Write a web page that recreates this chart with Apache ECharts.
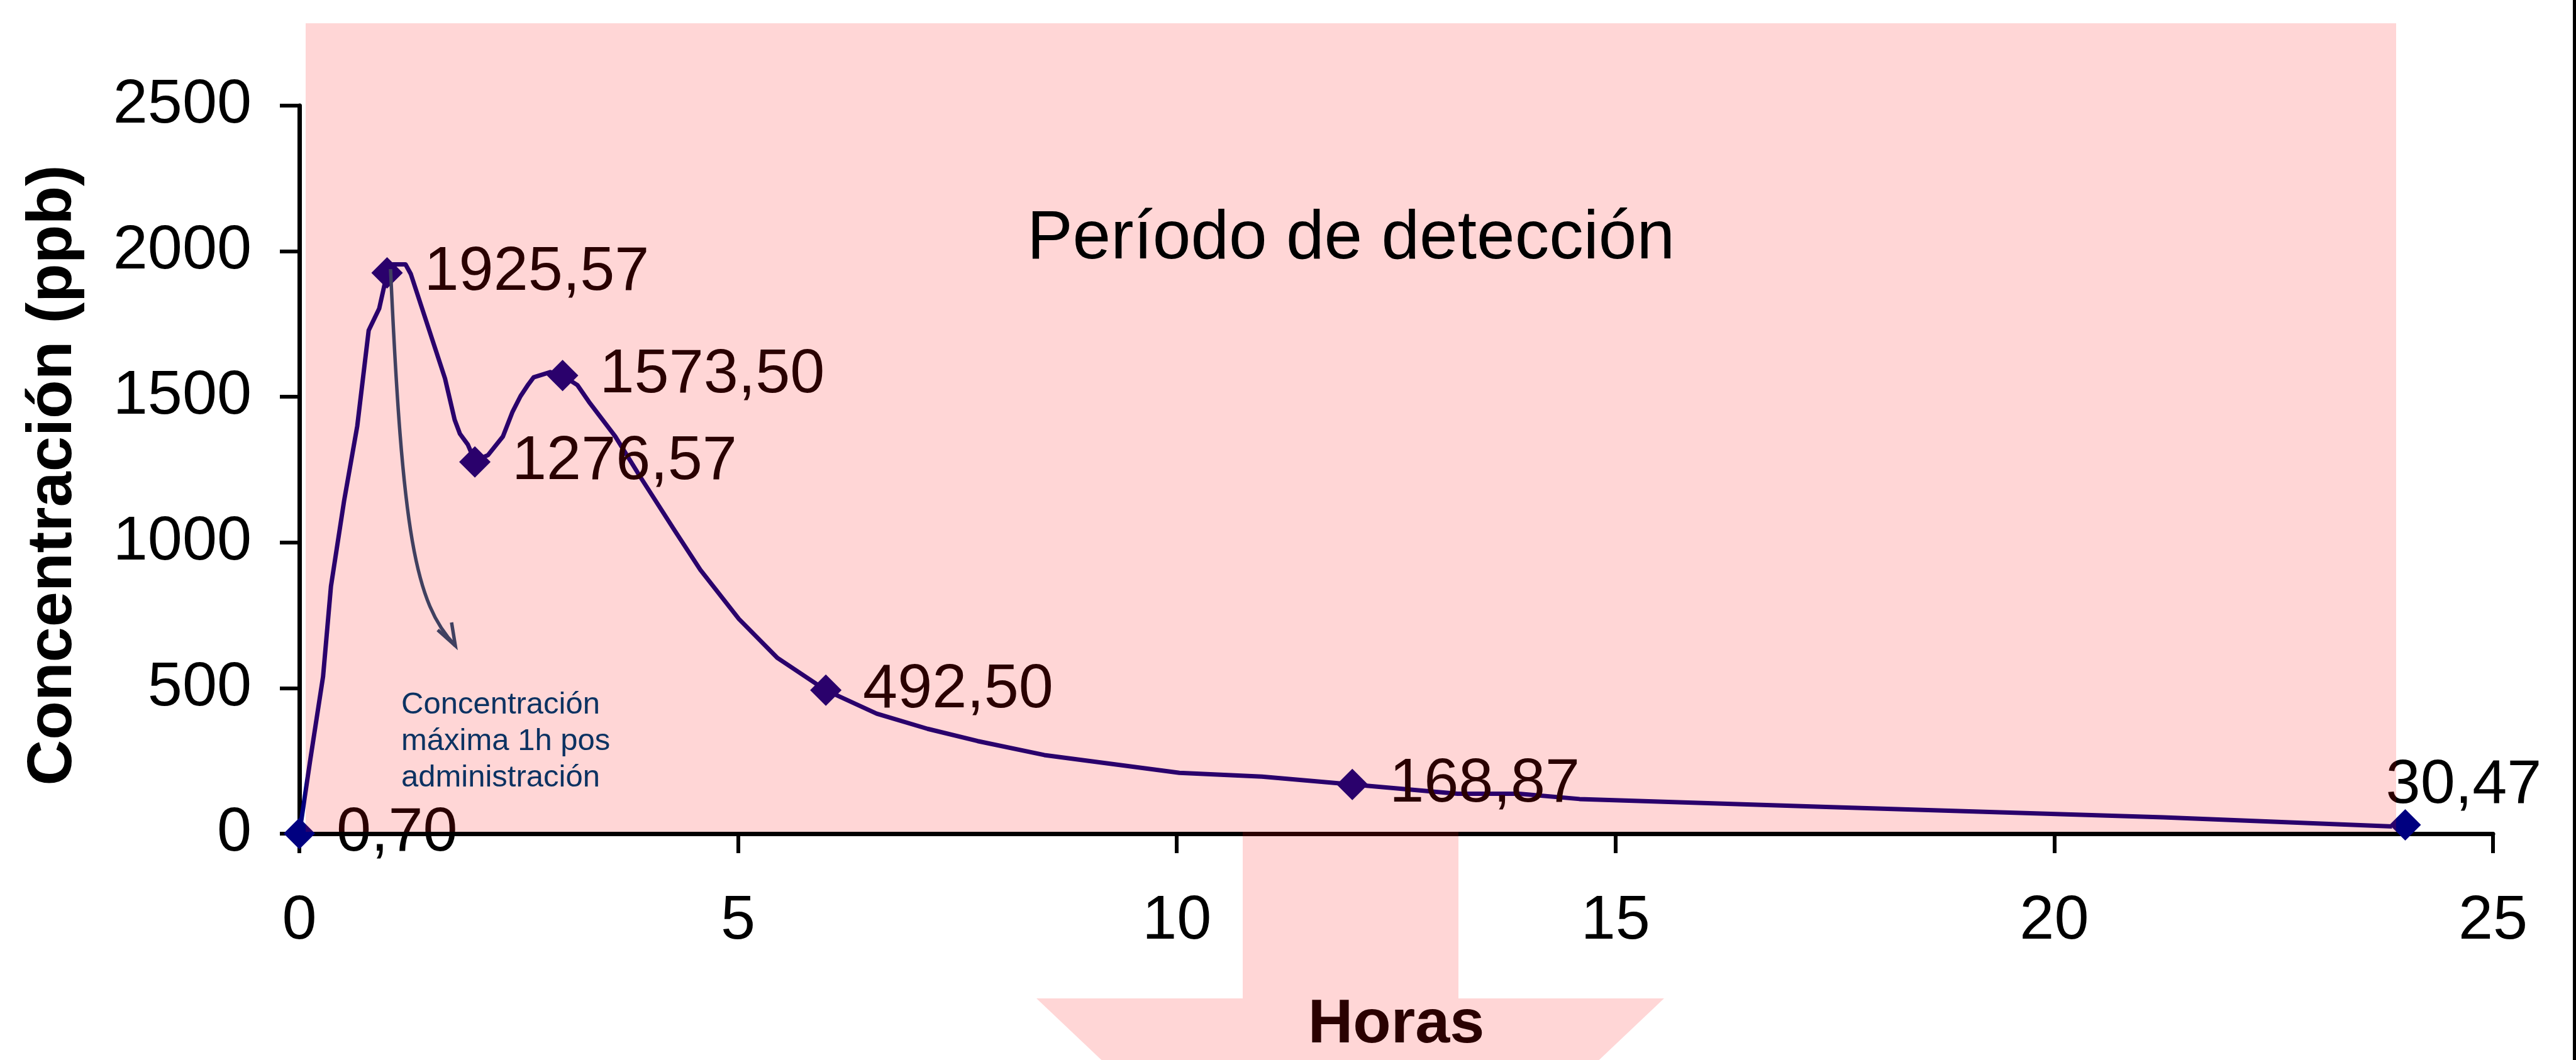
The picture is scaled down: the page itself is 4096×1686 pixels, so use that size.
<!DOCTYPE html>
<html><head><meta charset="utf-8">
<script src="https://cdn.jsdelivr.net/npm/echarts@6/dist/echarts.min.js"></script>
<style>html,body{margin:0;padding:0;background:#fff;overflow:hidden}#c{width:4096px;height:1686px}</style>
</head><body><div id="c"></div>
<script>
// Measured points (hours, ppb)
const hours = [0, 1, 2, 3, 6, 12, 24];
const concentration = [0.70, 1925.57, 1276.57, 1573.50, 492.50, 168.87, 30.47];
// Hand-drawn curve vertices (hours, ppb)
const curveHours = [0, 0.12, 0.27, 0.36, 0.51, 0.66, 0.79, 0.91, 0.97, 1.06, 1.21, 1.27, 1.66, 1.77, 1.83, 1.92, 2.0, 2.15, 2.32, 2.43, 2.52, 2.61, 2.67, 2.86, 3.0, 3.17, 3.30, 3.60, 3.89, 4.28, 4.57, 5.01, 5.45, 6.0, 6.58, 7.16, 7.73, 8.49, 10.03, 10.97, 12.0, 13.2, 13.9, 14.59, 17.4, 21.24, 23.85];
const curveConc = [0.7, 245, 539, 849, 1143, 1400, 1728, 1803, 1884, 1955, 1955, 1922, 1563, 1421, 1373, 1336, 1280, 1300, 1364, 1449, 1502, 1543, 1567, 1585, 1573, 1540, 1483, 1364, 1223, 1040, 906, 737, 603, 492.5, 412, 360, 318, 270, 209, 196, 169, 137, 137, 119, 92, 56, 25];
const xTickValues = [0, 5, 10, 15, 20, 25];
const yTickValues = [0, 500, 1000, 1500, 2000, 2500];
const xName = 'Horas';
const yName = 'Concentración (ppb)';
const periodLabel = 'Período de detección';
const noteLines = ['Concentración', 'máxima 1h pos', 'administración'];

const FONT = '"Liberation Sans", Arial, sans-serif';
const chart = echarts.init(document.getElementById('c'), null, {renderer: 'canvas'});
const fmt = v => v.toFixed(2).replace('.', ',');

const markerData = hours.map((h, i) => {
  const item = {value: [h, concentration[i]]};
  if (i === hours.length - 1) {
    item.label = {position: 'top', distance: 0, offset: [93, 12]};
  }
  return item;
});

chart.setOption({
  animation: false,
  backgroundColor: '#ffffff',
  grid: {left: 476, right: 132, top: 168, bottom: 360, containLabel: false},
  xAxis: {
    type: 'value', min: xTickValues[0], max: xTickValues[xTickValues.length - 1], interval: 5,
    name: xName, nameLocation: 'middle', nameGap: 255,
    nameTextStyle: {fontFamily: FONT, fontSize: 99, fontWeight: 'bold', color: '#000'},
    axisLine: {show: true, lineStyle: {color: '#000', width: 7}},
    axisTick: {show: true, length: 31, lineStyle: {color: '#000', width: 6}},
    axisLabel: {fontFamily: FONT, fontSize: 99, color: '#000', margin: 90, formatter: v => String(v)},
    splitLine: {show: false}
  },
  yAxis: {
    type: 'value', min: yTickValues[0], max: yTickValues[yTickValues.length - 1], interval: 500,
    name: yName, nameLocation: 'middle', nameGap: 340,
    nameTextStyle: {fontFamily: FONT, fontSize: 101, fontWeight: 'bold', color: '#000', padding: [0, 18, 0, 0]},
    axisLine: {show: true, lineStyle: {color: '#000', width: 7}},
    axisTick: {show: true, length: 31, lineStyle: {color: '#000', width: 6}},
    axisLabel: {fontFamily: FONT, fontSize: 99, color: '#000', margin: 76, formatter: v => String(v)},
    splitLine: {show: false}
  },
  series: [
    {
      type: 'line', z: 2,
      data: curveHours.map((h, i) => [h, curveConc[i]]),
      showSymbol: false, smooth: false,
      lineStyle: {color: '#000080', width: 7, join: 'round', cap: 'butt', opacity: 1},
      silent: true
    },
    {
      type: 'scatter', z: 3,
      data: markerData,
      symbol: 'diamond', symbolSize: 50,
      itemStyle: {color: '#000080', opacity: 1},
      label: {
        show: true, position: 'right', distance: 34, opacity: 1,
        fontFamily: FONT, fontSize: 99, color: '#000',
        formatter: p => fmt(p.value[1])
      },
      emphasis: {disabled: true}
    }
  ],
  graphic: [
    {
      type: 'polygon', z: 100, silent: true,
      shape: {points: [[486, 37], [3810, 37], [3810, 1323], [2319, 1323], [2319, 1588], [2646, 1588], [2147, 2061], [1648, 1588], [1976, 1588], [1976, 1323], [486, 1323]]},
      style: {fill: 'rgba(255,6,6,0.165)'}
    },
    {
      type: 'text', z: 110, x: 2148, y: 381,
      style: {text: periodLabel, fontFamily: FONT, fontSize: 109, fill: '#000', align: 'center', verticalAlign: 'middle'}
    },
    {
      type: 'text', z: 110, x: 638, y: 1092,
      style: {text: noteLines.join('\n'), fontFamily: FONT, fontSize: 49, lineHeight: 58, fill: '#0c3262', align: 'left', verticalAlign: 'top'}
    },
    {
      type: 'bezierCurve', z: 110,
      shape: {x1: 621, y1: 428, cpx1: 640, cpy1: 850, cpx2: 660, cpy2: 960, x2: 724, y2: 1027},
      style: {stroke: '#404060', lineWidth: 5.5, fill: null}
    },
    {
      type: 'polyline', z: 110,
      shape: {points: [[718, 990], [724, 1027], [696, 1002]]},
      style: {stroke: '#404060', lineWidth: 5.5, fill: null, lineJoin: 'miter'}
    },
    {
      type: 'rect', z: 110,
      shape: {x: 4091, y: 0, width: 5, height: 1686},
      style: {fill: '#000'}
    }
  ]
});
</script></body></html>
